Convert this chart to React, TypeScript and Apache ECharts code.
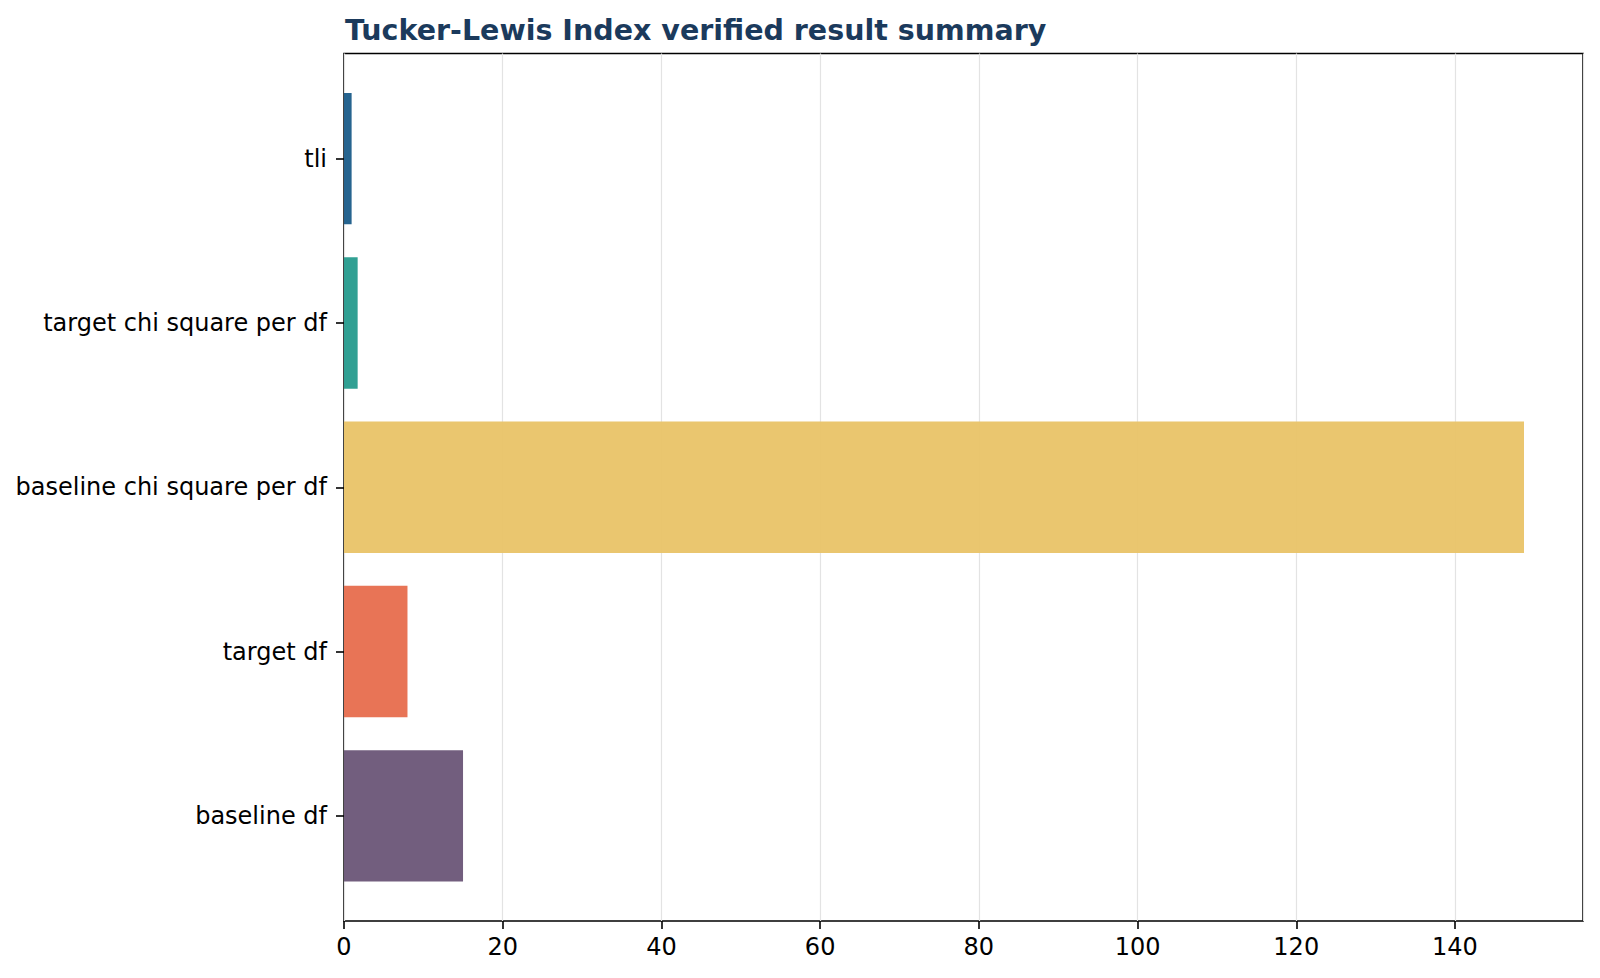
import { useEffect, useRef } from "react";
import * as echarts from "echarts";

// 自下而上 (ECharts 类目轴从底部开始)
const CATEGORIES = ["baseline df", "target df", "baseline chi square per df", "target chi square per df", "tli"];
const VALUES = [15, 8, 148.7, 1.72, 0.96];
const COLORS = ["#6d597a", "#e76f51", "#e9c46a", "#2a9d8f", "#1f5f8b"];
const X_TICKS = [0, 20, 40, 60, 80, 100, 120, 140];

const TITLE = "Tucker-Lewis Index verified result summary";
const FONT = "DejaVu Sans, Verdana, sans-serif";

export default function App() {
  const ref = useRef<HTMLDivElement>(null);

  useEffect(() => {
    document.body.style.margin = "0";
    if (!ref.current) return;
    const inst = echarts.init(ref.current, undefined, { renderer: "svg" });

    // matplotlib 默认 5% 边距
    const xMax = Math.max(...VALUES) * 1.05;
    const L = 344, R = 17, TOP = 53.5, BOTTOM = 57;
    const H = 978 - TOP - BOTTOM;
    // 类目范围 -0.64 .. 4.64 (共 5.28 单位), 每类 1 单位
    const unit = H / 5.28;
    const barTop = TOP + 0.14 * unit;
    const barBottom = BOTTOM + 0.14 * unit;

    inst.setOption({
      animation: false,
      backgroundColor: "#fff",
      title: {
        text: TITLE,
        left: L - 4,
        top: 11,
        textStyle: { color: "#1b3a5c", fontFamily: FONT, fontWeight: "bold", fontSize: 28.5 },
      },
      grid: [
        { left: L, right: R, top: barTop, bottom: barBottom },
        { left: L, right: R, top: TOP, bottom: BOTTOM, show: true, borderColor: "#000", borderWidth: 1.6, backgroundColor: "transparent" },
      ],
      xAxis: [
        { type: "value", gridIndex: 0, min: 0, max: xMax, show: false },
        {
          type: "value", gridIndex: 1, min: 0, max: xMax, interval: 20,
          axisLine: { show: false },
          axisTick: { show: true, length: 8, lineStyle: { color: "#000", width: 1.6 } },
          axisLabel: {
            color: "#000", fontFamily: FONT, fontSize: 24, margin: 14,
            showMaxLabel: false,
            formatter: (v: number) => (X_TICKS.includes(v) ? String(v) : ""),
          },
          splitLine: { show: true, lineStyle: { color: "#e3e3e3", width: 1.2 } },
        },
      ],
      yAxis: [
        {
          type: "category", gridIndex: 0, data: CATEGORIES,
          axisLine: { show: false },
          axisTick: { show: true, alignWithLabel: true, length: 8, lineStyle: { color: "#000", width: 1.6 } },
          axisLabel: { color: "#000", fontFamily: FONT, fontSize: 24, margin: 17 },
          splitLine: { show: false },
        },
        { type: "value", gridIndex: 1, show: false },
      ],
      series: [
        {
          type: "bar", xAxisIndex: 0, yAxisIndex: 0,
          barWidth: "80%",
          data: VALUES.map((v, i) => ({ value: v, itemStyle: { color: COLORS[i] } })),
          itemStyle: { opacity: 0.97 },
        },
      ],
    });

    return () => inst.dispose();
  }, []);

  return <div ref={ref} style={{ width: 1600, height: 978 }} />;
}
